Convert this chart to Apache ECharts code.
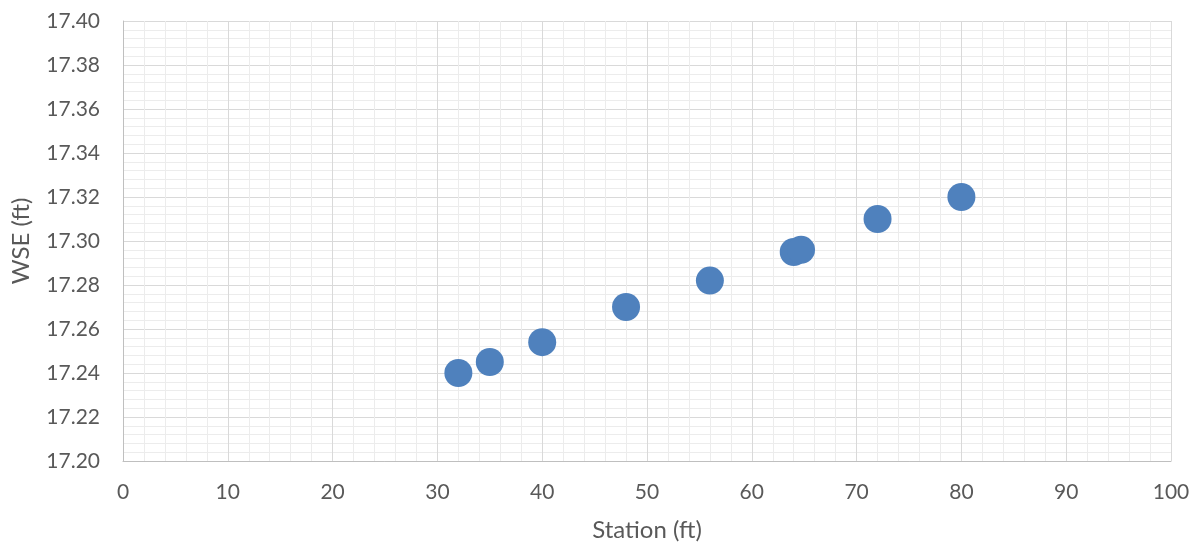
<!DOCTYPE html>
<html>
<head>
<meta charset="utf-8">
<script src="https://cdn.jsdelivr.net/npm/echarts@6/dist/echarts.min.js"></script>
<style>
  html, body { margin: 0; padding: 0; background: #fff; }
  #chart { width: 1201px; height: 548px; }
</style>
</head>
<body>
<div id="chart"></div>
<script>
// Water surface elevation measured along the station
const stations = [32, 35, 40, 48, 56, 64, 64.7, 72, 80];
const wse = [17.240, 17.245, 17.254, 17.270, 17.282, 17.295, 17.296, 17.310, 17.320];

const xTitle = 'Station (ft)';
const yTitle = 'WSE (ft)';

const points = stations.map((s, i) => [s, wse[i]]);

const labelFont = { fontFamily: 'Lato, "Open Sans", sans-serif', color: '#595959', fontSize: 21 };
const titleFont = Object.assign({}, labelFont, { fontSize: 24 });

const chart = echarts.init(document.getElementById('chart'), null, { renderer: 'canvas' });
chart.setOption({
  animation: false,
  backgroundColor: '#ffffff',
  grid: { left: 123, right: 30, top: 21, bottom: 87, containLabel: false },
  xAxis: {
    type: 'value',
    min: 0, max: 100, interval: 10,
    name: xTitle,
    nameLocation: 'middle',
    nameGap: 57,
    nameTextStyle: titleFont,
    axisLine: { show: true, lineStyle: { color: '#bfbfbf', width: 1 } },
    axisTick: { show: false },
    axisLabel: Object.assign({ margin: 21 }, labelFont),
    splitLine: { show: true, lineStyle: { color: '#d9d9d9', width: 1 } },
    minorTick: { show: false, splitNumber: 5 },
    minorSplitLine: { show: true, lineStyle: { color: '#ececec', width: 1 } }
  },
  yAxis: {
    type: 'value',
    min: 17.20, max: 17.40, interval: 0.02,
    name: yTitle,
    nameLocation: 'middle',
    nameGap: 90,
    nameRotate: 90,
    nameTextStyle: titleFont,
    axisLine: { show: true, lineStyle: { color: '#bfbfbf', width: 1 } },
    axisTick: { show: false },
    axisLabel: Object.assign({ margin: 23, formatter: v => v.toFixed(2) }, labelFont),
    splitLine: { show: true, lineStyle: { color: '#d9d9d9', width: 1 } },
    minorTick: { show: false, splitNumber: 5 },
    minorSplitLine: { show: true, lineStyle: { color: '#ececec', width: 1 } }
  },
  series: [{
    type: 'scatter',
    data: points,
    symbol: 'circle',
    symbolSize: 28,
    itemStyle: { color: '#4f81bd', opacity: 1 }
  }]
});
</script>
</body>
</html>
